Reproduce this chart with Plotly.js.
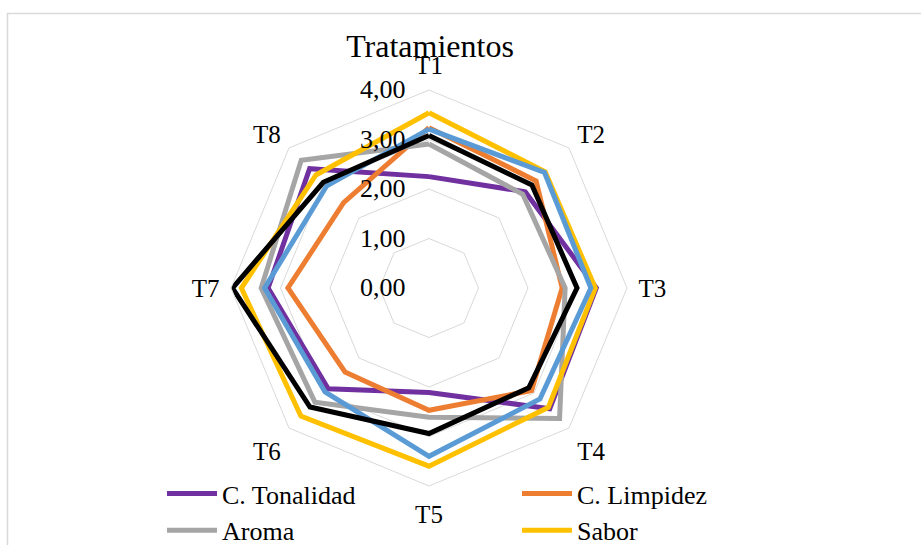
<!DOCTYPE html>
<html>
<head>
<meta charset="utf-8">
<script src="https://cdn.plot.ly/plotly-3.0.1.min.js"></script>
<style>html,body{margin:0;padding:0;background:#fff;}#chart{width:921px;height:545px;}</style>
</head>
<body>
<div id="chart"></div>
<script>
var categories = ["T1", "T2", "T3", "T4", "T5", "T6", "T7", "T8"];
var tonalidad = [2.25, 2.75, 3.38, 3.45, 2.11, 2.88, 3.25, 3.41];
var limpidez  = [3.24, 3.06, 2.69, 2.93, 2.47, 2.40, 2.85, 2.44];
var aroma     = [2.91, 2.68, 2.75, 3.73, 2.61, 3.26, 3.39, 3.65];
var sabor     = [3.54, 3.32, 3.36, 3.41, 3.60, 3.66, 3.79, 3.23];
var serie5    = [3.21, 3.30, 3.27, 3.17, 3.40, 2.97, 3.32, 2.92];
var serie6    = [3.08, 2.94, 2.99, 2.85, 2.94, 3.40, 3.97, 3.02];
var radialTicks = [0, 1, 2, 3, 4];

var series = [
  {name: "C. Tonalidad", r: tonalidad, color: "#7030A0", legend: true},
  {name: "C. Limpidez", r: limpidez, color: "#ED7D31", legend: true},
  {name: "Aroma", r: aroma, color: "#A5A5A5", legend: true},
  {name: "Sabor", r: sabor, color: "#FFC000", legend: true},
  {name: "Serie 5", r: serie5, color: "#5B9BD5", legend: false},
  {name: "Serie 6", r: serie6, color: "#000000", legend: false}
];

var serif = "Liberation Serif, Times New Roman, serif";

var data = series.map(function (s) {
  return {
    type: "scatterpolar",
    mode: "lines",
    name: s.name,
    r: s.r.concat([s.r[0]]),
    theta: categories.concat([categories[0]]),
    line: {color: s.color, width: 5},
    showlegend: s.legend,
    hoverinfo: "skip"
  };
});

var layout = {
  width: 921,
  height: 545,
  margin: {l: 0, r: 0, t: 0, b: 0, autoexpand: false},
  paper_bgcolor: "#ffffff",
  separators: ",.",
  font: {family: serif, color: "#000000", size: 25},
  title: {
    text: "Tratamientos",
    font: {family: serif, size: 32, color: "#000000"},
    x: 430 / 921, xanchor: "center", xref: "paper",
    y: 1 - 46 / 545, yanchor: "middle", yref: "container"
  },
  polar: {
    domain: {x: [231 / 921, 627 / 921], y: [1 - 486 / 545, 1 - 90 / 545]},
    gridshape: "linear",
    bgcolor: "rgba(0,0,0,0)",
    radialaxis: {
      range: [0, 4],
      tickvals: radialTicks,
      tickformat: ".2f",
      angle: 90,
      tickangle: 90,
      side: "counterclockwise",
      showline: false,
      showgrid: true,
      gridcolor: "#D9D9D9",
      gridwidth: 1,
      ticks: "outside",
      ticklen: 14,
      tickcolor: "rgba(0,0,0,0)",
      tickfont: {family: serif, size: 26, color: "#000000"}
    },
    angularaxis: {
      rotation: 90,
      direction: "clockwise",
      showgrid: false,
      showline: true,
      linecolor: "#D9D9D9",
      linewidth: 1,
      ticks: "outside",
      ticklen: 6,
      tickcolor: "rgba(0,0,0,0)",
      tickfont: {family: serif, size: 25, color: "#000000"}
    }
  },
  legend: {
    orientation: "h",
    x: 162 / 921, xanchor: "left",
    y: 1 - 470 / 545, yanchor: "top",
    entrywidth: 290,
    entrywidthmode: "pixels",
    font: {family: serif, size: 26, color: "#000000"},
    bgcolor: "rgba(0,0,0,0)",
    itemwidth: 50,
    tracegroupgap: 0
  },
  shapes: [{
    type: "rect", xref: "paper", yref: "paper",
    x0: 7.5 / 921, x1: 1.05, y0: -0.05, y1: 1 - 13.5 / 545,
    line: {color: "#D9D9D9", width: 1.5},
    fillcolor: "rgba(0,0,0,0)",
    layer: "below"
  }],
  showlegend: true
};

Plotly.newPlot("chart", data, layout, {displayModeBar: false, staticPlot: true});
</script>
</body>
</html>
